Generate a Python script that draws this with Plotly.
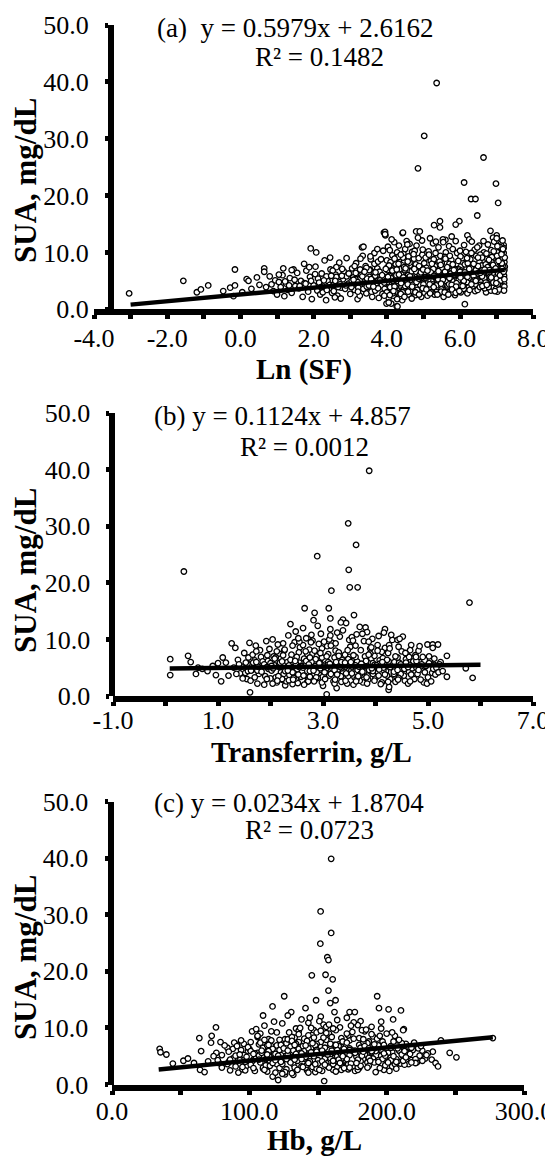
import plotly.graph_objects as go

# The page body has an 8px default margin; the figure is sized so that it fills the
# remaining window and positions below are given in window pixels.
PAGE_OFF = 8
W, H = 553 - PAGE_OFF, 1160 - PAGE_OFF
FONT = "Liberation Serif, Times New Roman, serif"

# ---------------- Panel (a): Ln(SF) vs SUA ----------------
a_x = [
    -3.04, -1.56, -1.19, -1.08, -0.88, -0.47, -0.28, -0.15, -0.15, -0.19,
    0.17, 0.22, 0.45, 0.65, 0.65, 0.05, 0.30, 0.52, 0.70, 0.80,
    0.85, 0.90, 0.95, 1.00, 1.05, 1.10, 1.15, 1.20, 1.25, 1.30,
    1.17, 1.45, 1.74, 1.92, 2.07, 1.35, 1.40, 1.50, 1.55, 1.60,
    1.65, 1.70, 1.75, 1.80, 1.85, 1.90, 1.95, 2.00, 2.05, 2.10,
    2.12, 2.18, 2.22, 2.26, 2.30, 2.34, 2.38, 2.42, 2.46, 2.50,
    2.15, 2.25, 2.35, 2.45, 2.55, 2.60, 2.65, 2.70, 2.75, 2.80,
    2.55, 2.62, 2.68, 2.74, 2.82, 2.86, 2.90, 2.95, 3.00, 3.05,
    3.08, 3.12, 3.16, 3.20, 3.24, 3.28, 3.32, 3.36, 3.40, 3.44,
    3.10, 3.18, 3.26, 3.34, 3.42, 3.48, 3.52, 3.56, 3.60, 3.64,
    3.50, 3.58, 3.66, 3.70, 3.74, 3.78, 3.82, 3.86, 3.90, 3.94,
    3.66, 3.72, 3.80, 3.88, 3.92, 3.96, 3.98, 3.99, 4.00, 4.02,
    4.00, 4.03, 4.06, 4.09, 4.12, 4.15, 4.18, 4.21, 4.24, 4.27,
    4.02, 4.05, 4.08, 4.11, 4.14, 4.17, 4.20, 4.23, 4.26, 4.29,
    4.04, 4.10, 4.16, 4.22, 4.28, 4.31, 4.34, 4.37, 4.40, 4.43,
    4.30, 4.33, 4.36, 4.39, 4.42, 4.45, 4.48, 4.51, 4.54, 4.57,
    4.32, 4.38, 4.44, 4.50, 4.56, 4.60, 4.63, 4.66, 4.69, 4.72,
    4.35, 4.41, 4.47, 4.53, 4.59, 4.62, 4.68, 4.74, 4.77, 4.80,
    4.75, 4.78, 4.81, 4.84, 4.87, 4.90, 4.93, 4.96, 4.99, 5.02,
    4.76, 4.82, 4.88, 4.94, 5.00, 4.79, 4.85, 4.91, 4.97, 5.03,
    4.85, 5.02, 5.36, 6.64, 6.11, 6.98, 6.30, 6.42, 7.04, 6.47,
    5.98, 5.45, 5.29, 5.45, 5.88, 4.90, 4.44, 3.95, 3.95, 6.83,
    7.00, 6.20, 6.25, 5.77, 7.19, 4.29, 6.13, 4.05, 5.60, 6.90,
    5.05, 5.08, 5.11, 5.14, 5.17, 5.20, 5.23, 5.26, 5.29, 5.32,
    5.06, 5.12, 5.18, 5.24, 5.30, 5.35, 5.38, 5.41, 5.44, 5.47,
    5.10, 5.16, 5.22, 5.28, 5.34, 5.40, 5.46, 5.50, 5.53, 5.56,
    5.50, 5.55, 5.58, 5.61, 5.64, 5.67, 5.70, 5.73, 5.76, 5.79,
    5.52, 5.59, 5.62, 5.68, 5.74, 5.80, 5.83, 5.86, 5.89, 5.92,
    5.54, 5.65, 5.71, 5.77, 5.82, 5.88, 5.94, 5.97, 6.00, 6.03,
    6.02, 6.05, 6.08, 6.11, 6.14, 6.17, 6.20, 6.23, 6.26, 6.29,
    6.04, 6.10, 6.16, 6.22, 6.28, 6.32, 6.35, 6.38, 6.41, 6.44,
    6.06, 6.12, 6.18, 6.24, 6.30, 6.34, 6.40, 6.46, 6.50, 6.53,
    6.48, 6.52, 6.56, 6.59, 6.62, 6.65, 6.68, 6.71, 6.74, 6.77,
    6.55, 6.58, 6.61, 6.64, 6.67, 6.70, 6.73, 6.76, 6.79, 6.82,
    6.80, 6.84, 6.87, 6.90, 6.93, 6.96, 6.99, 7.02, 7.05, 7.08,
    6.85, 6.88, 6.91, 6.94, 6.97, 7.00, 7.03, 7.06, 7.09, 7.12,
    7.10, 7.13, 7.15, 7.17, 7.19, 7.20, 7.21, 7.14, 7.18, 7.21,
    7.11, 7.16, 7.20, 7.12, 7.17, 7.19, 7.08, 7.22, 7.15, 7.21,
    4.46, 4.52, 4.58, 4.64, 4.70, 4.73, 4.44, 4.50, 4.56, 4.62,
    4.07, 4.13, 4.19, 4.25, 4.31, 4.37, 4.43, 4.49, 4.55, 4.61,
    5.13, 5.19, 5.25, 5.31, 5.37, 5.43, 5.49, 5.57, 5.63, 5.69,
    5.75, 5.81, 5.87, 5.93, 5.99, 6.07, 6.13, 6.19, 6.27, 6.33,
    6.37, 6.43, 6.49, 6.57, 6.63, 6.69, 6.75, 6.81, 6.89, 6.95,
    3.00, 3.14, 3.22, 3.30, 3.38, 3.46, 3.54, 3.62, 3.68, 3.76,
    2.20, 2.28, 2.36, 2.44, 2.52, 2.58, 2.66, 2.72, 2.78, 2.88,
    4.01, 4.06, 4.11, 4.16, 4.21, 4.26, 4.32, 4.38, 4.42, 4.47,
    4.52, 4.57, 4.63, 4.68, 4.73, 4.78, 4.83, 4.88, 4.93, 4.98,
    5.04, 5.09, 5.15, 5.21, 5.27, 5.33, 5.39, 5.44, 5.48, 5.54,
    5.60, 5.66, 5.72, 5.78, 5.84, 5.90, 5.96, 6.01, 6.09, 6.15,
    6.21, 6.26, 6.31, 6.36, 6.42, 6.47, 6.51, 6.54, 6.60, 6.66,
    6.72, 6.78, 6.83, 6.86, 6.92, 6.98, 7.01, 7.07, 7.13, 7.18,
    7.02, 7.07, 7.11, 7.16, 7.20, 6.92, 6.97, 7.04, 7.14, 7.22,
    3.52, 3.60, 3.68, 3.76, 3.84, 3.90, 3.97, 3.55, 3.74, 3.93,
    2.90, 2.96, 3.04, 3.12, 3.20, 3.28, 3.36, 3.44, 2.62, 2.48,
    1.05, 1.22, 1.33, 1.48, 1.62, 1.78, 1.93, 2.04, 1.40, 1.88,
    4.50, 4.60, 4.70, 4.80, 4.90, 5.00, 5.10, 5.20, 5.30, 5.40,
    5.50, 5.60, 5.70, 5.80, 5.90, 6.00, 6.10, 6.20, 6.30, 6.40,
    6.50, 6.60, 6.70, 6.80, 6.90, 7.00, 7.10, 4.20, 4.30, 4.40,
    4.03, 4.09, 4.15, 4.21, 4.27, 4.33, 4.39, 4.45, 4.51, 4.57,
    4.63, 4.69, 4.75, 4.81, 4.87, 4.93, 4.99, 5.05, 5.11, 5.17,
    5.23, 5.29, 5.35, 5.41, 5.47, 5.53, 5.59, 5.65, 5.71, 5.77,
    5.83, 5.89, 5.95, 6.01, 6.07, 6.13, 6.19, 6.25, 6.31, 6.37,
    6.43, 6.49, 6.55, 6.61, 6.67, 6.73, 6.79, 6.85, 6.91, 6.97,
    7.03, 7.09, 7.15, 7.21, 7.05, 7.13, 7.19, 6.99, 6.95, 7.17,
    3.03, 3.09, 3.15, 3.21, 3.27, 3.33, 3.39, 3.45, 3.51, 3.57,
    3.63, 3.69, 3.75, 3.81, 3.87, 3.93, 2.53, 2.59, 2.67, 2.77,
    4.08, 4.18, 4.28, 4.38, 4.48, 4.58, 4.68, 4.78, 4.88, 4.98,
    5.08, 5.18, 5.28, 5.38, 5.48, 5.58, 5.68, 5.78, 5.88, 5.98,
]
a_y = [
    2.8, 5.0, 3.0, 3.5, 4.2, 3.2, 3.8, 7.0, 4.2, 2.3,
    5.3, 5.0, 5.6, 7.2, 6.6, 3.0, 3.6, 4.3, 3.9, 5.8,
    4.4, 3.2, 5.1, 2.6, 4.8, 3.9, 6.0, 2.3, 4.5, 3.4,
    7.2, 7.0, 8.0, 10.7, 10.0, 5.5, 2.9, 4.1, 6.4, 3.7,
    5.0, 2.2, 4.6, 6.8, 3.1, 5.7, 1.8, 4.2, 7.5, 3.3,
    5.4, 2.6, 6.3, 4.0, 8.6, 1.6, 5.0, 3.5, 7.0, 2.9,
    4.7, 3.0, 5.8, 9.1, 4.4, 6.1, 2.4, 8.2, 3.8, 5.3,
    3.2, 7.4, 4.9, 1.9, 6.7, 3.6, 9.0, 4.5, 2.7, 7.2,
    5.6, 3.4, 8.1, 1.8, 6.2, 4.1, 10.9, 11.0, 5.0, 2.8,
    4.4, 6.9, 2.4, 9.4, 7.6, 3.9, 5.7, 8.8, 2.2, 6.5,
    4.8, 3.1, 9.9, 5.3, 7.2, 2.0, 6.0, 4.2, 10.3, 3.6,
    8.0, 4.6, 6.6, 2.7, 13.5, 13.0, 5.0, 1.0, 8.6, 7.4,
    3.0, 11.0, 4.4, 6.1, 1.0, 9.5, 2.4, 5.6, 7.9, 0.5,
    6.9, 2.0, 10.4, 3.7, 7.3, 5.0, 11.8, 3.1, 9.0, 4.7,
    5.3, 8.3, 2.8, 6.6, 10.0, 2.1, 6.4, 8.8, 3.9, 13.4,
    5.4, 11.2, 4.2, 7.1, 1.6, 9.8, 5.9, 3.3, 12.0, 6.8,
    8.0, 3.0, 6.3, 10.6, 4.5, 2.6, 7.7, 5.2, 10.1, 3.6,
    2.3, 4.9, 8.6, 7.5, 9.3, 11.5, 6.2, 8.9, 4.1, 13.7,
    6.0, 2.5, 11.2, 5.1, 9.0, 3.4, 7.2, 12.1, 4.6, 8.1,
    10.3, 3.9, 6.6, 2.2, 5.5, 7.9, 12.6, 4.3, 9.6, 2.9,
    24.8, 30.5, 39.8, 26.7, 22.3, 22.1, 19.4, 19.4, 18.7, 16.5,
    15.5, 15.5, 14.8, 14.4, 14.9, 13.7, 13.5, 13.6, 13.2, 13.8,
    13.0, 13.0, 12.3, 12.8, 11.3, 0.5, 0.9, 1.2, 12.2, 12.6,
    4.0, 7.3, 2.4, 10.2, 5.7, 8.5, 3.2, 11.6, 6.4, 4.8,
    9.1, 5.2, 12.5, 6.9, 2.6, 7.8, 4.3, 10.9, 5.8, 2.9,
    6.2, 3.6, 4.9, 8.8, 11.9, 3.9, 9.4, 6.6, 12.3, 4.4,
    8.1, 2.2, 5.3, 10.0, 7.0, 3.3, 11.1, 5.9, 8.7, 4.6,
    5.0, 9.2, 2.9, 6.5, 3.8, 10.6, 7.4, 2.5, 5.6, 9.9,
    11.8, 4.0, 8.0, 6.8, 4.9, 12.0, 3.5, 7.0, 10.3, 5.4,
    3.0, 8.4, 5.9, 11.3, 4.2, 7.6, 2.8, 9.8, 6.3, 4.7,
    6.8, 3.6, 10.1, 5.2, 8.8, 11.9, 4.0, 7.1, 3.2, 9.4,
    9.0, 5.6, 7.2, 3.9, 6.1, 5.3, 10.5, 6.0, 4.6, 8.3,
    3.4, 11.2, 5.8, 7.7, 4.4, 10.0, 6.6, 3.0, 8.9, 5.1,
    9.6, 4.8, 6.9, 12.0, 3.7, 7.9, 5.5, 11.4, 4.2, 7.3,
    6.2, 3.3, 9.2, 5.0, 11.9, 4.1, 7.5, 3.1, 8.6, 5.8,
    10.4, 7.0, 3.9, 6.4, 8.2, 12.5, 4.9, 10.9, 6.7, 4.3,
    9.5, 3.8, 7.8, 5.5, 10.8, 4.6, 8.3, 6.1, 3.5, 6.9,
    11.5, 8.9, 5.9, 7.2, 4.1, 9.9, 11.0, 7.5, 10.2, 4.0,
    3.4, 4.9, 6.0, 3.2, 5.6, 7.0, 9.1, 2.9, 11.4, 8.2,
    5.9, 12.3, 7.0, 4.1, 9.2, 5.8, 3.0, 6.9, 5.0, 4.0,
    5.2, 6.7, 4.4, 7.6, 5.6, 6.1, 3.5, 7.0, 4.9, 5.7,
    6.3, 4.1, 6.9, 5.2, 4.3, 6.5, 7.9, 4.8, 5.5, 6.9,
    5.9, 6.9, 7.6, 4.3, 6.4, 5.2, 7.4, 5.7, 4.9, 6.6,
    4.2, 5.3, 3.8, 6.0, 4.5, 5.4, 7.0, 4.9, 3.3, 8.4,
    3.9, 5.1, 3.4, 4.3, 6.8, 2.1, 5.6, 4.4, 7.1, 4.2,
    4.8, 7.7, 5.5, 3.5, 8.9, 6.0, 4.6, 9.6, 5.1, 7.4,
    5.3, 8.4, 4.0, 6.7, 9.7, 5.0, 3.4, 7.6, 5.9, 10.5,
    6.6, 4.5, 9.6, 3.0, 7.1, 9.9, 5.0, 8.4, 3.1, 6.0,
    8.9, 4.2, 9.4, 3.0, 6.1, 8.0, 5.1, 9.3, 4.9, 6.0,
    8.1, 3.4, 9.9, 5.0, 4.4, 10.9, 6.4, 3.9, 9.1, 5.5,
    9.8, 3.9, 5.4, 8.3, 6.0, 3.6, 9.4, 5.2, 6.4, 7.4,
    11.1, 3.5, 5.1, 12.1, 3.3, 10.2, 5.6, 6.3, 8.1, 9.1,
    6.9, 4.5, 5.9, 3.7, 8.8, 5.8, 7.1, 9.3, 10.6, 2.4,
    5.8, 6.3, 5.0, 7.6, 4.8, 8.9, 3.6, 7.3, 5.7, 5.9,
    6.1, 4.9, 4.2, 5.2, 4.1, 4.5, 5.0, 6.2, 6.9, 7.4,
    4.1, 5.6, 4.3, 6.6, 6.1, 4.4, 5.6, 6.5, 4.1, 5.3,
    7.2, 6.3, 4.4, 7.9, 4.6, 6.6, 5.0, 5.7, 7.3, 5.1,
    6.3, 5.8, 4.7, 6.9, 7.8, 5.4, 5.0, 4.1, 5.0, 6.1,
    5.7, 3.9, 6.8, 4.0, 7.0, 6.1, 4.6, 5.6, 7.2, 4.4,
    5.8, 4.0, 7.1, 4.8, 5.4, 6.5, 7.0, 5.6, 6.8, 4.4,
    8.0, 5.9, 4.2, 6.7, 7.8, 5.2, 6.6, 7.4, 5.5, 4.3,
    6.9, 4.0, 8.5, 5.6, 4.1, 6.5, 9.0, 7.1, 4.4, 8.0,
    5.0, 9.1, 6.4, 4.1, 7.0, 4.3, 8.7, 5.6, 4.7, 7.2,
    4.4, 6.0, 7.1, 5.3, 8.5, 9.7, 6.6, 4.6, 3.2, 10.6,
    3.9, 5.2, 6.4, 3.1, 7.0, 5.8, 6.6, 4.0, 4.2, 5.3,
    4.0, 6.5, 5.0, 5.1, 6.0, 4.7, 4.2, 5.0, 3.9, 5.9,
    2.5, 3.2, 1.8, 2.7, 2.2, 3.1, 1.9, 3.0, 2.6, 3.7,
    3.5, 2.8, 3.9, 2.6, 4.5, 3.0, 2.6, 3.5, 2.9, 3.2,
]

# ---------------- Panel (b): Transferrin vs SUA ----------------
b_x = [
    0.09, 0.09, 0.35, 0.43, 0.48, 0.58, 0.62, 0.96, 1.06, 1.09,
    1.15, 1.26, 1.33, 0.80, 0.90, 1.00, 0.70, 1.20, 1.38, 1.42,
    3.88, 3.48, 3.63, 2.89, 3.49, 3.51, 3.66, 3.16, 5.79, 2.65,
    2.84, 3.11, 3.59, 3.14, 3.38, 2.82, 2.38, 3.81, 4.18, 4.99,
    5.09, 5.19, 5.36, 5.36, 5.72, 5.85, 5.09, 1.61, 3.07, 4.25,
    1.45, 1.50, 1.55, 1.60, 1.65, 1.70, 1.75, 1.80, 1.85, 1.90,
    1.52, 1.58, 1.62, 1.68, 1.72, 1.78, 1.82, 1.88, 1.92, 1.96,
    1.95, 2.00, 2.04, 2.08, 2.12, 2.16, 2.20, 2.24, 2.28, 2.32,
    1.98, 2.02, 2.06, 2.10, 2.14, 2.18, 2.22, 2.26, 2.30, 2.34,
    2.36, 2.40, 2.44, 2.48, 2.52, 2.56, 2.60, 2.64, 2.68, 2.72,
    2.38, 2.42, 2.46, 2.50, 2.54, 2.58, 2.62, 2.66, 2.70, 2.74,
    2.76, 2.80, 2.84, 2.88, 2.92, 2.96, 3.00, 3.04, 3.08, 3.12,
    2.78, 2.82, 2.86, 2.90, 2.94, 2.98, 3.02, 3.06, 3.10, 3.14,
    3.16, 3.20, 3.24, 3.28, 3.32, 3.36, 3.40, 3.44, 3.48, 3.52,
    3.18, 3.22, 3.26, 3.30, 3.34, 3.38, 3.42, 3.46, 3.50, 3.54,
    3.56, 3.60, 3.64, 3.68, 3.72, 3.76, 3.80, 3.84, 3.88, 3.92,
    3.58, 3.62, 3.66, 3.70, 3.74, 3.78, 3.82, 3.86, 3.90, 3.94,
    3.96, 4.00, 4.04, 4.08, 4.12, 4.16, 4.20, 4.24, 4.28, 4.32,
    3.98, 4.02, 4.06, 4.10, 4.14, 4.18, 4.22, 4.26, 4.30, 4.34,
    4.36, 4.40, 4.44, 4.48, 4.52, 4.56, 4.60, 4.64, 4.68, 4.72,
    4.38, 4.42, 4.46, 4.50, 4.54, 4.58, 4.62, 4.66, 4.70, 4.74,
    4.76, 4.80, 4.84, 4.88, 4.92, 4.96, 5.00, 5.04, 5.08, 5.12,
    4.78, 4.82, 4.86, 4.90, 4.94, 4.98, 5.02, 5.06, 5.10, 5.14,
    5.16, 5.20, 5.24, 5.28, 1.30, 1.35, 1.40, 1.47, 1.57, 1.67,
    2.05, 2.15, 2.25, 2.35, 2.45, 2.55, 2.65, 2.75, 2.85, 2.95,
    3.05, 3.15, 3.25, 3.35, 3.45, 3.55, 3.65, 3.75, 3.85, 3.95,
    2.10, 2.30, 2.50, 2.70, 2.90, 3.10, 3.30, 3.50, 3.70, 3.90,
    4.05, 4.15, 4.25, 4.35, 4.45, 4.55, 4.65, 1.85, 1.75, 2.00,
    2.22, 2.48, 2.72, 2.98, 3.22, 3.48, 3.72, 3.98, 4.22, 4.48,
    2.12, 2.42, 2.62, 2.92, 3.12, 3.42, 3.62, 3.92, 4.12, 4.42,
    1.88, 2.08, 2.28, 2.48, 2.68, 2.88, 3.08, 3.28, 3.48, 3.68,
    3.88, 4.08, 4.28, 4.48, 4.68, 4.88, 2.18, 2.38, 2.58, 2.78,
    2.98, 3.18, 3.38, 3.58, 3.78, 3.98, 4.18, 4.38, 4.58, 4.78,
    2.04, 2.24, 2.44, 2.64, 2.84, 3.04, 3.24, 3.44, 3.64, 3.84,
    4.04, 4.24, 4.44, 4.64, 4.84, 1.66, 1.76, 1.94, 3.34, 3.14,
    2.55, 2.75, 2.95, 3.15, 3.35, 3.55, 3.75, 3.95, 4.15, 4.35,
    2.15, 2.35, 2.55, 2.75, 2.95, 3.15, 3.35, 3.55, 3.75, 3.95,
    4.06, 4.26, 4.46, 4.66, 4.86, 5.02, 5.12, 5.22, 1.70, 1.56,
    2.02, 2.22, 2.42, 2.62, 2.82, 3.02, 3.22, 3.42, 3.62, 3.82,
    4.02, 4.22, 4.42, 4.62, 4.82, 1.83, 1.73, 1.63, 1.53, 1.93,
    2.27, 2.47, 2.67, 2.87, 3.07, 3.27, 3.47, 3.67, 3.87, 4.07,
    2.33, 2.53, 2.73, 2.93, 3.13, 3.33, 3.53, 3.73, 3.93, 4.13,
    2.13, 2.43, 2.63, 2.83, 3.03, 3.23, 3.43, 3.63, 3.83, 4.43,
    1.73, 1.93, 2.53, 2.77, 3.27, 3.57, 3.87, 4.27, 4.57, 4.77,
]
b_y = [
    6.5, 3.7, 22.0, 7.1, 6.0, 3.9, 5.0, 3.7, 2.6, 6.8,
    5.9, 9.3, 8.5, 4.4, 5.3, 5.8, 4.8, 3.6, 6.4, 4.0,
    39.8, 30.5, 26.7, 24.7, 22.3, 19.2, 19.2, 18.6, 16.5, 15.5,
    14.7, 15.5, 14.3, 13.7, 13.5, 13.4, 12.7, 12.1, 11.8, 9.1,
    9.1, 9.1, 7.1, 3.4, 4.9, 3.2, 8.5, 0.65, 0.3, 1.1,
    5.2, 7.6, 3.0, 9.4, 4.6, 6.3, 2.2, 8.1, 5.5, 3.5,
    4.1, 6.8, 2.7, 5.0, 8.9, 3.9, 6.9, 2.0, 9.7, 4.8,
    6.2, 3.1, 10.0, 5.4, 2.4, 7.5, 4.2, 9.3, 1.9, 6.0,
    8.3, 4.5, 7.0, 3.3, 9.1, 5.7, 2.9, 8.0, 4.8, 10.7,
    3.7, 7.3, 5.1, 11.4, 2.3, 8.6, 4.3, 6.6, 10.2, 3.0,
    6.4, 2.1, 9.5, 4.6, 7.7, 3.4, 12.0, 5.4, 2.5, 8.2,
    5.0, 9.8, 2.8, 7.0, 4.0, 11.0, 1.8, 6.2, 8.8, 3.6,
    10.8, 3.9, 6.5, 12.4, 5.6, 2.4, 9.6, 4.8, 7.4, 11.8,
    5.3, 2.6, 8.0, 4.1, 10.5, 6.4, 3.1, 12.9, 5.7, 8.7,
    9.4, 6.8, 1.4, 7.7, 3.5, 11.6, 5.1, 2.2, 9.9, 4.5,
    6.2, 3.3, 10.9, 5.0, 8.1, 2.4, 7.0, 11.3, 4.2, 6.6,
    2.0, 8.9, 4.6, 12.2, 3.8, 9.7, 5.5, 2.9, 8.4, 10.1,
    5.0, 3.2, 9.0, 6.3, 2.4, 11.2, 4.4, 7.6, 3.0, 9.9,
    7.1, 4.0, 10.6, 2.1, 6.7, 8.5, 5.6, 1.6, 10.8, 4.9,
    6.0, 3.4, 8.7, 5.2, 10.5, 2.7, 7.3, 4.3, 9.0, 6.1,
    2.5, 9.9, 4.7, 7.9, 3.6, 6.5, 2.2, 8.1, 4.9, 3.0,
    7.2, 3.9, 6.0, 4.7, 2.4, 5.3, 3.3, 6.4, 4.1, 5.5,
    5.0, 8.0, 2.9, 6.9, 4.2, 2.2, 5.8, 2.6, 4.8, 3.8,
    5.0, 4.2, 6.0, 4.4, 5.0, 3.9, 5.6, 3.1, 4.4, 5.9,
    4.9, 5.2, 3.9, 5.4, 4.0, 5.9, 3.6, 4.4, 5.3, 4.6,
    5.6, 4.4, 6.0, 4.9, 3.9, 5.2, 6.1, 4.7, 3.6, 5.8,
    6.8, 2.6, 6.9, 7.4, 3.2, 6.0, 7.1, 6.9, 2.7, 7.5,
    5.2, 4.6, 6.1, 3.9, 5.9, 4.8, 5.5, 6.1, 4.5, 5.8,
    3.0, 3.1, 2.6, 8.4, 2.2, 3.5, 4.0, 2.7, 3.6, 3.9,
    7.9, 8.9, 9.0, 9.2, 10.0, 7.3, 6.9, 8.6, 7.8, 6.8,
    5.6, 6.6, 4.4, 5.8, 6.2, 4.2, 5.4, 4.6, 6.5, 5.2,
    4.6, 5.7, 5.1, 5.6, 3.8, 5.6, 5.9, 4.9, 5.3, 6.0,
    6.8, 4.8, 5.8, 7.2, 5.3, 5.5, 3.8, 7.0, 5.9, 6.2,
    2.2, 7.2, 3.2, 2.0, 8.0, 3.0, 9.3, 4.0, 3.0, 2.2,
    8.0, 2.5, 3.2, 6.9, 8.8, 7.3, 5.2, 7.2, 13.0, 10.7,
    5.1, 3.4, 4.9, 3.9, 6.0, 4.0, 4.3, 3.9, 5.0, 4.3,
    3.5, 2.8, 9.6, 6.8, 7.6, 8.9, 2.5, 10.4, 11.0, 4.4,
    3.6, 9.0, 10.1, 2.6, 5.2, 7.0, 6.6, 5.6, 3.3, 5.7,
    5.3, 6.1, 4.2, 5.0, 4.5, 5.2, 4.6, 5.9, 5.4, 6.2,
    5.4, 6.4, 4.6, 5.1, 4.6, 4.3, 6.0, 4.5, 5.9, 5.1,
    8.2, 6.2, 7.9, 3.3, 7.0, 3.8, 8.1, 3.5, 7.3, 4.7,
    4.5, 3.8, 5.6, 5.8, 5.7, 5.1, 6.0, 5.7, 4.9, 6.0,
    2.7, 2.9, 3.6, 2.6, 4.2, 2.9, 2.7, 2.6, 3.3, 2.9,
    7.9, 3.0, 10.2, 9.5, 11.2, 9.8, 9.6, 8.4, 7.6, 6.9,
]

# ---------------- Panel (c): Hb vs SUA ----------------
c_x = [
    159.6, 151.9, 159.6, 151.7, 156.8, 157.6, 155.5, 145.5, 160.7, 157.6,
    125.4, 148.6, 162.8, 158.9, 193.1, 116.9, 140.9, 194.4, 201.4, 210.4,
    130.5, 110.0, 173.0, 176.8, 204.7, 75.7, 212.5, 72.6, 154.5, 121.0,
    34.7, 35.3, 39.6, 44.3, 52.0, 55.3, 59.7, 63.6, 64.9, 72.1,
    64.1, 67.4, 225.9, 227.1, 233.6, 232.8, 235.6, 237.4, 239.5, 245.9,
    250.8, 277.3, 117.0, 70.0, 76.0, 80.0, 84.0, 88.0, 92.0, 96.0,
    78, 82, 86, 90, 94, 98, 102, 106, 110, 114,
    80, 85, 91, 95, 99, 103, 107, 111, 115, 119,
    100, 104, 108, 112, 116, 120, 124, 128, 132, 136,
    102, 106, 110, 114, 118, 122, 126, 130, 134, 138,
    118, 122, 126, 130, 134, 138, 142, 146, 150, 154,
    120, 124, 128, 132, 136, 140, 144, 148, 152, 156,
    140, 143, 146, 149, 152, 155, 158, 161, 164, 167,
    141, 144, 147, 150, 153, 156, 159, 162, 165, 168,
    160, 163, 166, 169, 172, 175, 178, 181, 184, 187,
    162, 165, 168, 171, 174, 177, 180, 183, 186, 189,
    180, 184, 188, 192, 196, 200, 204, 208, 212, 216,
    182, 186, 190, 194, 198, 202, 206, 210, 214, 218,
    200, 204, 208, 212, 216, 220, 224, 228, 219, 222,
    105, 115, 125, 135, 145, 155, 165, 175, 185, 195,
    110, 120, 130, 140, 150, 160, 170, 180, 190, 200,
    112, 127, 137, 147, 157, 167, 177, 187, 197, 207,
    86, 96, 108, 117, 133, 145, 163, 173, 192, 210,
    90, 94, 132, 142, 152, 162, 172, 182, 203, 213,
    97, 101, 139, 149, 159, 169, 179, 189, 199, 209,
    104, 114, 124, 134, 144, 154, 164, 174, 184, 194,
    108, 118, 128, 138, 148, 158, 168, 178, 188, 198,
    116, 126, 136, 146, 156, 166, 176, 186, 196, 206,
    122, 132, 142, 152, 162, 172, 182, 192, 202, 212,
    88, 98, 107, 113, 123, 133, 143, 153, 163, 173,
    183, 193, 203, 213, 223, 226, 230, 215, 205, 195,
    131, 137, 143, 149, 155, 161, 167, 173, 179, 185,
    74, 79, 84, 89, 93, 97, 101, 105, 109, 113,
    127, 135, 145, 151, 161, 171, 181, 191, 201, 211,
    95, 99, 103, 107, 111, 115, 119, 123, 127, 131,
    135, 139, 143, 147, 151, 155, 159, 163, 167, 171,
    175, 179, 183, 187, 191, 195, 199, 203, 207, 211,
    101, 109, 117, 125, 133, 141, 149, 157, 165, 173,
    181, 189, 197, 205, 213, 221, 229, 93, 85, 77,
    106, 116, 126, 136, 146, 156, 166, 176, 186, 196,
    111, 121, 131, 141, 151, 161, 171, 181, 191, 201,
    114, 124, 134, 144, 154, 164, 174, 184, 194, 204,
    119, 129, 139, 149, 159, 169, 179, 189, 199, 209,
    91, 103, 113, 123, 133, 143, 153, 163, 173, 183,
    217, 221, 225, 214, 218, 207, 197, 187, 177, 167,
    128, 138, 148, 158, 168, 178, 188, 198, 208, 218,
]
c_y = [
    39.9, 30.6, 26.8, 24.9, 22.5, 22.0, 19.4, 19.3, 18.6, 16.6,
    15.6, 14.9, 14.9, 14.4, 15.6, 13.8, 13.5, 13.5, 13.3, 13.1,
    12.8, 12.2, 12.8, 12.8, 11.5, 10.1, 9.8, 8.6, 0.6, 0.8,
    6.3, 5.7, 5.3, 3.7, 4.2, 4.6, 3.8, 8.2, 5.9, 7.4,
    2.6, 2.2, 6.0, 4.8, 5.8, 4.4, 3.8, 3.2, 7.8, 5.6,
    4.8, 8.2, 1.4, 4.1, 5.6, 3.0, 6.5, 4.6, 2.1, 7.2,
    3.8, 6.9, 2.5, 5.1, 7.8, 3.3, 9.4, 5.6, 2.8, 8.0,
    5.2, 4.0, 7.0, 2.7, 5.9, 4.4, 7.1, 10.4, 4.9, 2.1,
    6.3, 2.4, 9.0, 4.5, 6.8, 3.6, 10.8, 5.3, 1.7, 7.5,
    4.1, 8.4, 3.0, 6.0, 11.1, 2.9, 8.0, 4.0, 9.9, 3.2,
    5.4, 7.9, 1.8, 6.7, 4.8, 11.5, 2.5, 8.8, 5.6, 10.6,
    9.2, 4.4, 12.2, 3.6, 6.3, 8.1, 4.9, 2.2, 7.5, 3.8,
    6.0, 10.9, 3.4, 7.2, 12.0, 5.1, 9.0, 2.6, 11.4, 6.6,
    3.0, 5.8, 9.6, 4.3, 2.4, 7.9, 4.7, 12.8, 5.4, 3.3,
    8.4, 4.0, 10.1, 6.3, 2.7, 9.3, 5.2, 11.2, 3.6, 7.6,
    5.6, 7.1, 3.1, 11.8, 5.9, 2.4, 8.2, 4.5, 6.9, 10.2,
    2.9, 9.4, 5.1, 4.0, 11.1, 6.2, 3.2, 7.8, 5.0, 6.6,
    6.0, 3.9, 8.5, 6.9, 2.6, 4.9, 8.6, 3.7, 7.2, 4.3,
    9.0, 5.7, 4.1, 9.6, 3.6, 7.4, 5.1, 4.6, 6.1, 3.9,
    4.8, 4.2, 5.9, 5.0, 6.4, 4.6, 6.8, 5.7, 5.3, 6.1,
    6.5, 6.9, 3.9, 4.6, 3.7, 6.0, 4.3, 7.0, 4.6, 5.4,
    3.4, 7.3, 5.6, 5.0, 3.2, 8.2, 6.0, 3.3, 7.6, 4.5,
    4.4, 5.2, 7.4, 6.3, 8.3, 10.0, 4.1, 7.8, 2.2, 5.8,
    3.2, 6.1, 6.0, 7.7, 6.6, 7.0, 3.6, 5.1, 6.8, 3.5,
    4.0, 7.5, 5.2, 9.2, 5.4, 4.8, 10.5, 8.9, 3.4, 6.0,
    5.5, 5.9, 3.6, 7.2, 4.1, 5.6, 5.0, 3.7, 6.0, 4.3,
    3.9, 4.6, 8.0, 5.5, 6.9, 3.0, 7.6, 4.9, 5.5, 7.0,
    7.8, 4.6, 9.5, 3.1, 10.2, 5.6, 11.0, 7.3, 5.1, 3.6,
    6.1, 4.9, 3.5, 9.5, 4.0, 8.7, 9.6, 5.9, 2.4, 4.2,
    6.3, 4.9, 5.1, 2.3, 5.2, 3.0, 8.7, 4.1, 9.6, 5.2,
    7.5, 8.1, 4.3, 6.2, 6.4, 4.2, 5.5, 5.6, 7.6, 2.9,
    2.0, 10.0, 6.4, 2.8, 6.5, 9.9, 2.6, 6.4, 2.6, 9.7,
    5.0, 7.5, 3.6, 7.4, 4.3, 2.5, 3.5, 9.8, 5.6, 6.9,
    4.5, 2.6, 5.7, 11.2, 3.6, 4.5, 6.5, 3.9, 5.6, 5.3,
    3.1, 6.6, 2.9, 4.4, 7.9, 3.3, 5.4, 7.0, 2.7, 8.4,
    4.2, 6.8, 2.1, 8.3, 5.9, 3.5, 6.9, 2.3, 4.6, 7.4,
    6.0, 3.1, 8.0, 4.7, 6.4, 8.6, 4.8, 6.5, 2.8, 7.3,
    5.9, 6.0, 3.8, 6.4, 4.4, 4.9, 6.1, 5.3, 4.4, 6.1,
    4.1, 5.7, 4.5, 5.0, 5.9, 4.5, 5.2, 5.3, 5.8, 4.3,
    8.6, 9.4, 2.2, 8.9, 7.3, 9.1, 3.8, 8.1, 3.0, 9.9,
    2.6, 5.1, 7.7, 6.9, 2.6, 4.2, 9.0, 3.3, 7.1, 3.9,
    7.0, 1.9, 5.4, 11.8, 8.3, 6.1, 10.4, 6.8, 4.0, 9.2,
    4.3, 9.2, 3.1, 5.8, 7.2, 2.9, 4.4, 5.9, 5.1, 7.9,
    6.8, 5.4, 5.3, 4.0, 7.0, 3.8, 6.0, 7.0, 3.0, 5.8,
    5.4, 3.8, 6.8, 4.8, 6.5, 4.0, 5.9, 6.4, 5.6, 5.3,
    6.0, 4.5, 3.6, 10.6, 5.0, 3.8, 4.2, 5.5, 6.4, 3.9,
]

# Linear trendlines (Excel fit) and the x-extent of each fitted line
slopes = [0.5979, 0.1124, 0.0234]
intercepts = [2.6162, 4.857, 1.8704]
fit_x_ranges = [[-3.0, 7.22], [0.08, 6.0], [34.0, 277.3]]
equations = ["(a)\u00a0\u00a0y = 0.5979x + 2.6162", "(b) y = 0.1124x + 4.857", "(c) y = 0.0234x + 1.8704"]
r2_texts = ["R² = 0.1482", "R² = 0.0012", "R² = 0.0723"]
x_titles = ["Ln (SF)", "Transferrin, g/L", "Hb, g/L"]
y_title = "SUA, mg/dL"

x_ranges = [[-4, 8], [-1, 7], [0, 300]]
x_tickvals = [[-4, -2, 0, 2, 4, 6, 8], [-1, 1, 3, 5, 7], [0, 100, 200, 300]]
x_ticktext = [["-4.0", "-2.0", "0.0", "2.0", "4.0", "6.0", "8.0"],
              ["-1.0", "1.0", "3.0", "5.0", "7.0"],
              ["0.0", "100.0", "200.0", "300.0"]]
x_minor = [1, 1, 50]
y_tickvals = [0, 10, 20, 30, 40, 50]
y_ticktext = ["0.0", "10.0", "20.0", "30.0", "40.0", "50.0"]

# ---------------- layout geometry (window pixels) ----------------
def px(x):
    return (x - PAGE_OFF) / W

def py(y):
    return 1 - (y - PAGE_OFF) / H

x_dom = [[94, 533.3], [113, 533], [112, 524]]
y_dom = [[309.3, 25], [696, 413], [1084.5, 801.7]]   # (bottom, top)
y_axis_pos = [111, 112.4, 110.5]
x_label_standoff = [-4, -8, -6]
eq_pos = [(295, 27.5), (282, 416), (289, 803)]
r2_pos = [(319, 57), (304, 446.5), (309, 830)]
xt_pos = [(304, 369), (311, 752), (314, 1140)]
yt_pos = [(25, 181), (25, 571), (25, 958)]

fig = go.Figure()
data = [(a_x, a_y), (b_x, b_y), (c_x, c_y)]

for i in range(3):
    sx = "" if i == 0 else str(i + 1)
    xs, ys = data[i]
    fig.add_trace(go.Scatter(
        x=xs, y=ys, mode="markers", xaxis="x" + sx, yaxis="y" + sx,
        marker=dict(symbol="circle", size=5.5, color="white",
                    line=dict(color="black", width=1.3)),
        showlegend=False, hoverinfo="skip"))
    fx = fit_x_ranges[i]
    fy = [slopes[i] * v + intercepts[i] for v in fx]
    fig.add_trace(go.Scatter(
        x=fx, y=fy, mode="lines", xaxis="x" + sx, yaxis="y" + sx,
        line=dict(color="black", width=4.5),
        showlegend=False, hoverinfo="skip"))

    xa = dict(
        domain=[px(x_dom[i][0]), px(x_dom[i][1])],
        range=x_ranges[i], anchor="y" + sx, automargin=False,
        showline=True, linewidth=6, linecolor="black",
        ticks="outside", ticklen=4, tickwidth=5, tickcolor="black",
        tickmode="array", tickvals=x_tickvals[i], ticktext=x_ticktext[i],
        minor=dict(tickmode="linear", dtick=x_minor[i], tick0=x_ranges[i][0],
                   ticks="outside", ticklen=4, tickwidth=5, tickcolor="black",
                   showgrid=False),
        showgrid=False, zeroline=False,
        tickfont=dict(family=FONT, size=26, color="black"),
        ticklabelstandoff=x_label_standoff[i],
        ticklabeloverflow="allow",
    )
    ya = dict(
        domain=[py(y_dom[i][0]), py(y_dom[i][1])],
        range=[0, 50], anchor="free", position=px(y_axis_pos[i]), automargin=False,
        showline=True, linewidth=6, linecolor="black",
        ticks="outside", ticklen=3, tickwidth=5, tickcolor="black",
        tickmode="array", tickvals=y_tickvals, ticktext=y_ticktext,
        showgrid=False, zeroline=False,
        tickfont=dict(family=FONT, size=26, color="black"),
        ticklabelstandoff=11,
        ticklabeloverflow="allow",
    )
    fig.layout["xaxis" + sx] = xa
    fig.layout["yaxis" + sx] = ya

annots = []
for i in range(3):
    annots.append(dict(text=equations[i], x=px(eq_pos[i][0]), y=py(eq_pos[i][1]),
                       xref="paper", yref="paper", xanchor="center", yanchor="middle",
                       showarrow=False, font=dict(family=FONT, size=27, color="black")))
    annots.append(dict(text=r2_texts[i], x=px(r2_pos[i][0]), y=py(r2_pos[i][1]),
                       xref="paper", yref="paper", xanchor="center", yanchor="middle",
                       showarrow=False, font=dict(family=FONT, size=27, color="black")))
    annots.append(dict(text="<b>" + x_titles[i] + "</b>", x=px(xt_pos[i][0]), y=py(xt_pos[i][1]),
                       xref="paper", yref="paper", xanchor="center", yanchor="middle",
                       showarrow=False, font=dict(family=FONT, size=29, color="black")))
    annots.append(dict(text="<b>" + y_title + "</b>", x=px(yt_pos[i][0]), y=py(yt_pos[i][1]),
                       xref="paper", yref="paper", xanchor="center", yanchor="middle",
                       textangle=-90, showarrow=False,
                       font=dict(family=FONT, size=31, color="black")))

fig.update_layout(
    width=W, height=H, autosize=False,
    margin=dict(l=0, r=0, t=0, b=0, pad=0, autoexpand=False),
    paper_bgcolor="white", plot_bgcolor="white",
    annotations=annots,
)

fig.write_html("out.html")
